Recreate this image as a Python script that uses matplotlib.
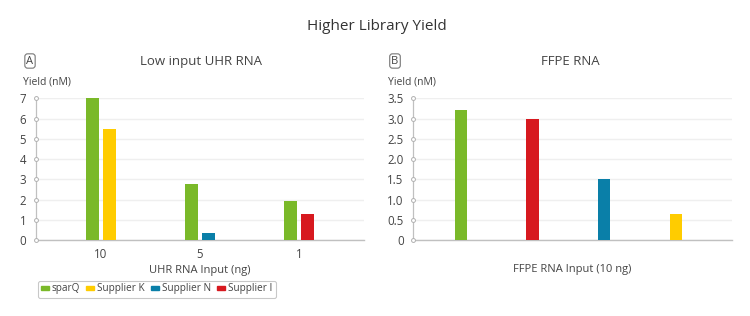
import matplotlib
matplotlib.use("Agg")
import matplotlib.pyplot as plt
from matplotlib.patches import Rectangle
import numpy as np

plt.rcParams['font.family'] = ['Open Sans', 'DejaVu Sans']

# ---- data ----
series = ["sparQ", "Supplier K", "Supplier N", "Supplier I"]
colors = {"sparQ": "#7ab929", "Supplier K": "#ffcc00", "Supplier N": "#0a7fa8", "Supplier I": "#d7191f"}

uhr_categories = ["10", "5", "1"]
uhr_values = {
    "sparQ": [7.0, 2.75, 1.95],
    "Supplier K": [5.5, None, None],
    "Supplier N": [None, 0.35, None],
    "Supplier I": [None, None, 1.3],
}

ffpe_series = ["sparQ", "Supplier I", "Supplier N", "Supplier K"]
ffpe_values = [3.2, 3.0, 1.5, 0.65]

uhr_yticks = [0, 1, 2, 3, 4, 5, 6, 7]
ffpe_yticks = [0, 0.5, 1.0, 1.5, 2.0, 2.5, 3.0, 3.5]
ffpe_yticklabels = ["0", "0.5", "1.0", "1.5", "2.0", "2.5", "3.0", "3.5"]

# ---- figure ----
W, H = 750, 316
fig = plt.figure(figsize=(7.5, 3.16), dpi=100)
fig.patch.set_facecolor("white")

def fx(px):
    return px / W

def fy(py):
    return 1 - py / H

axA = fig.add_axes([fx(36), fy(240), fx(364 - 36), (240 - 98.3) / H])
axB = fig.add_axes([fx(413.3), fy(240), fx(732 - 413.3), (240 - 98.3) / H])

text_col = "#444444"
axis_col = "#c0c0c0"
grid_col = "#efefef"

def style(ax, yticks, ylabels):
    ax.set_ylim(0, yticks[-1])
    ax.set_yticks(yticks)
    ax.set_yticklabels(ylabels, fontsize=8.3, color=text_col)
    ax.tick_params(axis='y', length=0, pad=7)
    ax.tick_params(axis='x', length=0, pad=6, labelsize=8.3, labelcolor=text_col)
    for s in ["top", "right"]:
        ax.spines[s].set_visible(False)
    ax.spines["left"].set_color(axis_col)
    ax.spines["bottom"].set_color(axis_col)
    ax.spines["left"].set_linewidth(0.9)
    ax.spines["bottom"].set_linewidth(1.0)
    ax.yaxis.grid(True, color=grid_col, linewidth=1.0)
    ax.set_axisbelow(True)
    ax.plot([0] * len(yticks), yticks, linestyle="none", marker="o", ms=2.8,
            mfc="white", mec="#b0b0b0", mew=0.7,
            transform=ax.get_yaxis_transform(), clip_on=False, zorder=5)

# Panel A
bw = 0.126
off = 0.084
x = np.arange(len(uhr_categories))
for i, cat in enumerate(uhr_categories):
    present = [s for s in series if uhr_values[s][i] is not None]
    offs = [-off, off] if len(present) == 2 else [0]
    for s, o in zip(present, offs):
        axA.bar(x[i] + o, uhr_values[s][i], width=bw, color=colors[s], zorder=3)
axA.set_xlim(-0.657, 2.657)
axA.set_xticks(x)
axA.set_xticklabels(uhr_categories)
style(axA, uhr_yticks, [str(v) for v in uhr_yticks])
axA.set_xlabel("UHR RNA Input (ng)", fontsize=8, color=text_col, labelpad=3)

# Panel B
xb = np.arange(len(ffpe_series))
axB.bar(xb, ffpe_values, width=0.172, color=[colors[s] for s in ffpe_series], zorder=3)
axB.set_xlim(-0.662, 3.78)
axB.set_xticks([])
style(axB, ffpe_yticks, ffpe_yticklabels)
axB.set_xlabel("FFPE RNA Input (10 ng)", fontsize=8, color=text_col, labelpad=17)

# Titles & labels
fig.text(fx(377), fy(27), "Higher Library Yield", ha="center", va="center", fontsize=11, color="#333333")
fig.text(fx(201), fy(62), "Low input UHR RNA", ha="center", va="center", fontsize=9.5, color=text_col)
fig.text(fx(570), fy(62), "FFPE RNA", ha="center", va="center", fontsize=9.5, color=text_col)
box = dict(boxstyle="round,pad=0.15,rounding_size=0.25", fc="white", ec="#777777", lw=0.8)
fig.text(fx(30), fy(61), "A", ha="center", va="center", fontsize=8, color=text_col, bbox=box)
fig.text(fx(395), fy(61), "B", ha="center", va="center", fontsize=8, color=text_col, bbox=box)
fig.text(fx(23), fy(82), "Yield (nM)", ha="left", va="center", fontsize=7.5, color=text_col)
fig.text(fx(388), fy(82), "Yield (nM)", ha="left", va="center", fontsize=7.5, color=text_col)

# Legend
handles = [Rectangle((0, 0), 1, 1, color=colors[s]) for s in series]
leg = fig.legend(handles, series, loc="center left", bbox_to_anchor=(fx(33), fy(289)),
                 ncol=4, fontsize=7.2, frameon=True, handlelength=0.75, handleheight=0.35,
                 handletextpad=0.35, columnspacing=0.6, borderpad=0.3, fancybox=True)
leg.get_frame().set_edgecolor("#bbbbbb")
leg.get_frame().set_linewidth(0.8)
for t in leg.get_texts():
    t.set_color(text_col)

fig.savefig("out.png", dpi=100, facecolor="white")
